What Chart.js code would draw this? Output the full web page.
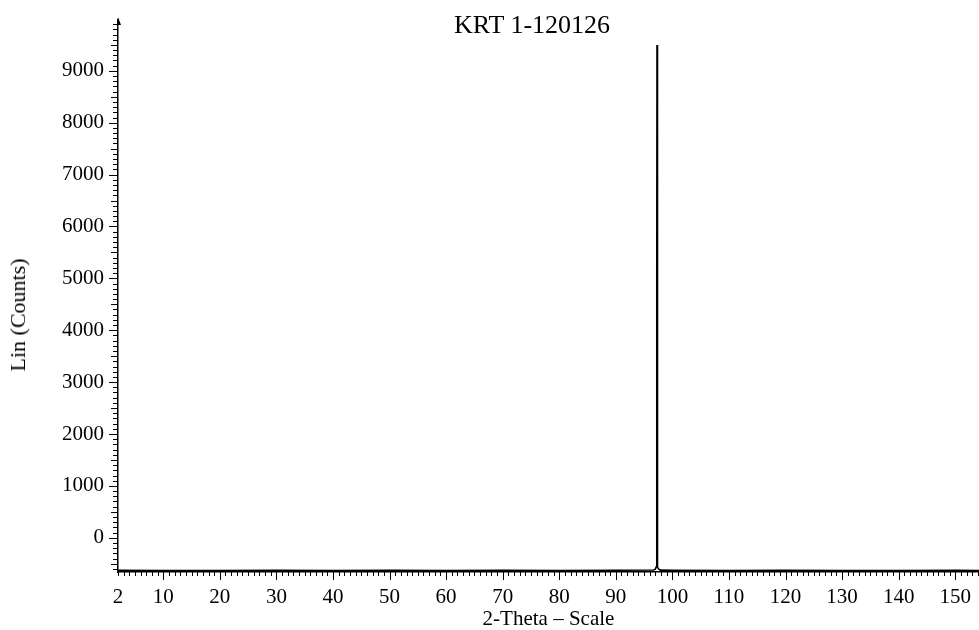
<!DOCTYPE html>
<html>
<head>
<meta charset="utf-8">
<script src="https://cdn.jsdelivr.net/npm/chart.js@4"></script>
<style>
  body { margin: 0; background: #fff; }
  #wrap { position: relative; width: 979px; height: 630px; }
  .lbl { position: absolute; font-family: 'Liberation Serif', 'Times New Roman', serif; color: #000; white-space: nowrap; }
  #title { left: 532px; top: 10px; font-size: 26px; transform: translateX(-50%); }
  #ytitle { left: 18px; top: 315px; font-size: 22px; transform: translate(-50%, -50%) rotate(-90deg); }
</style>
</head>
<body>
<div id="wrap">
  <canvas id="xrd" width="979" height="630"></canvas>
  <div class="lbl" id="title">KRT 1-120126</div>
  <div class="lbl" id="ytitle">Lin (Counts)</div>
</div>
<script>
// scan: flat baseline, one sharp reflection near 97.3
const twoTheta = [2, 10, 20, 30, 40, 50, 60, 70, 80, 90, 96.7, 97.0, 97.15, 97.22, 97.26, 97.28, 97.31, 97.34, 97.45, 97.6, 97.9, 100, 110, 120, 130, 140, 150, 154.2];
const counts = [-628, -632, -630, -627, -631, -629, -633, -628, -630, -626, -622, -605, -560, 1500, 5000, 9500, 2100, -400, -570, -605, -624, -629, -631, -628, -632, -630, -629, -630];

const yTicks = [0, 1000, 2000, 3000, 4000, 5000, 6000, 7000, 8000, 9000];
const xTicks = [2, 10, 20, 30, 40, 50, 60, 70, 80, 90, 100, 110, 120, 130, 140, 150];

const serif = "'Liberation Serif', 'Times New Roman', serif";

// minor ticks + arrow on y axis
const tickMarks = {
  id: 'tickMarks',
  afterDraw(chart) {
    const ctx = chart.ctx;
    const x = chart.scales.x, y = chart.scales.y;
    const x0 = x.left, y0 = y.bottom;
    ctx.save();
    ctx.strokeStyle = '#000';
    ctx.lineWidth = 1;
    ctx.beginPath();
    for (let v = 2; v <= x.max; v++) {
      const px = Math.round(x.getPixelForValue(v)) + 0.5;
      const len = v % 10 === 0 ? 8 : 4;
      ctx.moveTo(px, y0);
      ctx.lineTo(px, y0 + len);
    }
    for (let v = -600; v <= y.max; v += 100) {
      const py = Math.round(y.getPixelForValue(v)) + 0.5;
      const len = v % 1000 === 0 ? 9 : (v % 500 === 0 ? 7 : 5);
      ctx.moveTo(x0, py);
      ctx.lineTo(x0 - len, py);
    }
    ctx.stroke();
    ctx.fillStyle = '#000';
    ctx.beginPath();
    ctx.moveTo(x0, y.top - 3);
    ctx.lineTo(x0 + 3, y.top + 5);
    ctx.lineTo(x0 - 1, y.top + 5);
    ctx.closePath();
    ctx.fill();
    ctx.restore();
  }
};

new Chart(document.getElementById('xrd'), {
  type: 'line',
  data: {
    datasets: [{
      data: twoTheta.map((t, i) => ({ x: t, y: counts[i] })),
      borderColor: '#000',
      borderWidth: 1.6,
      pointRadius: 0,
      tension: 0
    }]
  },
  options: {
    responsive: false,
    animation: false,
    layout: { padding: { top: 20, left: 0, right: 0, bottom: 0 } },
    plugins: { legend: { display: false }, tooltip: { enabled: false } },
    scales: {
      x: {
        type: 'linear',
        min: 2,
        max: 154.2,
        afterBuildTicks: s => { s.ticks = xTicks.map(v => ({ value: v })); },
        afterFit: s => { s.height = 58; s.paddingLeft = 0; s.paddingRight = 0; },
        grid: { display: false, drawTicks: false },
        border: { display: true, color: '#000', width: 1.5 },
        ticks: { color: '#000', padding: 13, maxRotation: 0, autoSkip: false, callback: v => String(v), font: { family: serif, size: 21 } },
        title: { display: true, text: '2-Theta \u2013 Scale', color: '#000', padding: 0, font: { family: serif, size: 21, lineHeight: 1 } }
      },
      y: {
        type: 'linear',
        min: -660,
        max: 9980,
        afterBuildTicks: s => { s.ticks = yTicks.map(v => ({ value: v })); },
        afterFit: s => { s.width = 118; s.paddingTop = 0; s.paddingBottom = 0; },
        grid: { display: false, drawTicks: false },
        border: { display: true, color: '#000', width: 1.5 },
        ticks: { color: '#000', padding: 14, callback: v => String(v), font: { family: serif, size: 21 } }
      }
    }
  },
  plugins: [tickMarks]
});
</script>
</body>
</html>
